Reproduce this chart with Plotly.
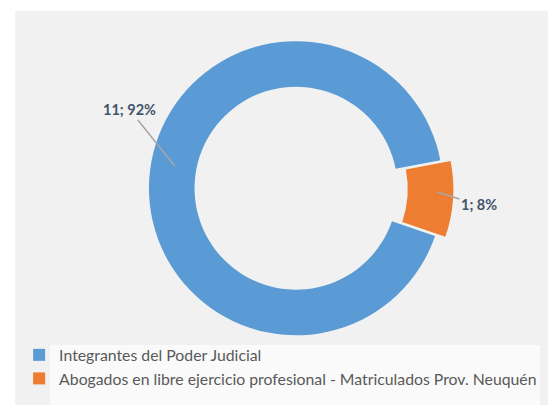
import plotly.graph_objects as go

labels = [
    "Integrantes del Poder Judicial",
    "Abogados en libre ejercicio profesional - Matriculados Prov. Neuquén",
]
values = [11, 1]
colors = ["#5b9bd5", "#ed7d31"]
pulls = [0, 0.07]

total = sum(values)
pcts = [round(v * 100 / total) for v in values]
texts = [f"{v}; {p}%" for v, p in zip(values, pcts)]

fig = go.Figure()
fig.add_trace(go.Pie(
    labels=labels, values=values, hole=0.69,
    marker=dict(colors=colors, line=dict(color="rgba(0,0,0,0)", width=0)),
    pull=pulls, sort=False, direction="clockwise", rotation=109,
    textinfo="none", hoverinfo="label+value+percent",
    domain=dict(x=[0.235, 0.801], y=[0.1665, 0.9435]),
))

# data labels with leader lines
label_pos = [(0.300, 0.610, -45, -56), (0.7716, 0.5457, 42, 13)]
for t, (x, y, ax, ay) in zip(texts, label_pos):
    fig.add_annotation(
        x=x, y=y, xref="paper", yref="paper", text=f"<b>{t}</b>",
        showarrow=True, arrowhead=0, arrowwidth=1.5, arrowcolor="#a6a6a6",
        ax=ax, ay=ay, font=dict(size=14.5, color="#44546a", family="Lato"),
    )

# chart area + legend box backgrounds
fig.add_shape(type="rect", xref="paper", yref="paper", x0=0.013, x1=1, y0=0, y1=0.993,
              fillcolor="#f1f1f1", line=dict(width=0), layer="below")
fig.add_shape(type="rect", xref="paper", yref="paper", x0=0.0755, x1=0.957, y0=0.017, y1=0.168,
              fillcolor="#fafafa", line=dict(width=0), layer="below")

fig.update_layout(
    width=556, height=405,
    margin=dict(l=0, r=0, t=0, b=0),
    paper_bgcolor="white",
    font=dict(family="Lato", size=15.8, color="#595959"),
    showlegend=True,
    legend=dict(x=0.020, y=0.185, xanchor="left", yanchor="top",
                bgcolor="rgba(0,0,0,0)", itemwidth=30,
                font=dict(size=15.8, color="#595959")),
)

fig.write_html("out.html")
